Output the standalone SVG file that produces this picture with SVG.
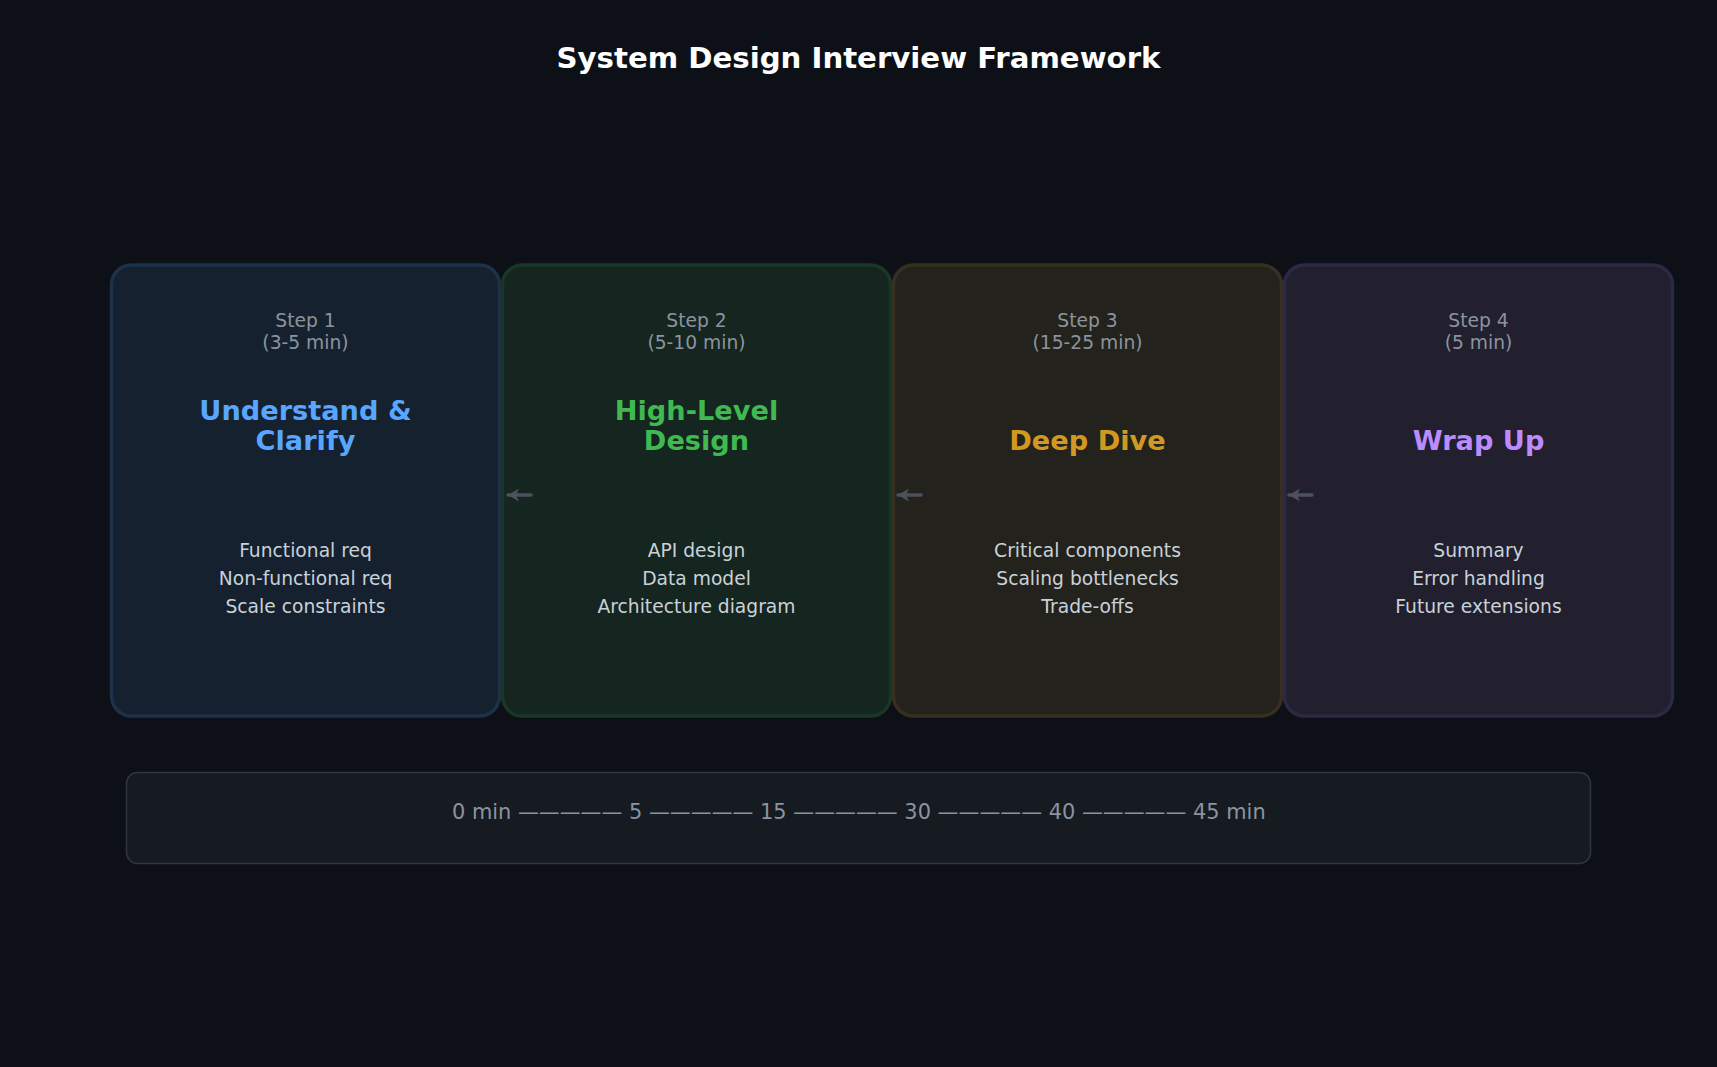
<svg xmlns="http://www.w3.org/2000/svg" width="1717" height="1067" viewBox="0 0 1717 1067">
<defs>
<style>
text{font-family:"DejaVu Sans","Liberation Sans",sans-serif;text-anchor:middle}
.title{font-size:29.2px;font-weight:bold;fill:#ffffff}
.step{font-size:18.7px;fill:#8b949e}
.head{font-size:27.2px;font-weight:bold}
.body{font-size:18.7px;fill:#c9d1d9}
.box{stroke-width:3.5}
.conn{stroke:#4b525b;stroke-width:3.5;stroke-linecap:round;fill:none}
.tl{font-size:20.9px;fill:#8b949e}
</style>
<marker id="ah" markerUnits="userSpaceOnUse" markerWidth="14" markerHeight="14" refX="12" refY="7" orient="auto">
<path d="M1,0.5 L12,7 L1,13.5 L4,7 Z" fill="#4b525b"/>
</marker>
</defs>
<rect x="0" y="0" width="1717" height="1067" fill="#0d1117"/>
<text class="title" x="858.5" y="68">System Design Interview Framework</text>

<g id="step1">
<rect class="box" x="111.5" y="265" width="388" height="451" rx="20" fill="#16212f" stroke="#1d3149"/>
<text class="step" x="305.5" y="327">Step 1</text>
<text class="step" x="305.5" y="349">(3-5 min)</text>
<text class="head" x="305.5" y="420" fill="#58a6ff">Understand &amp;</text>
<text class="head" x="305.5" y="450" fill="#58a6ff">Clarify</text>
<text class="body" x="305.5" y="557">Functional req</text>
<text class="body" x="305.5" y="585">Non-functional req</text>
<text class="body" x="305.5" y="613">Scale constraints</text>
</g>

<g id="step2">
<rect class="box" x="502.5" y="265" width="388" height="451" rx="20" fill="#15251f" stroke="#1a3726"/>
<text class="step" x="696.5" y="327">Step 2</text>
<text class="step" x="696.5" y="349">(5-10 min)</text>
<text class="head" x="696.5" y="420" fill="#3fb950">High-Level</text>
<text class="head" x="696.5" y="450" fill="#3fb950">Design</text>
<text class="body" x="696.5" y="557">API design</text>
<text class="body" x="696.5" y="585">Data model</text>
<text class="body" x="696.5" y="613">Architecture diagram</text>
</g>

<g id="step3">
<rect class="box" x="893.5" y="265" width="388" height="451" rx="20" fill="#24221c" stroke="#372f1f"/>
<text class="step" x="1087.5" y="327">Step 3</text>
<text class="step" x="1087.5" y="349">(15-25 min)</text>
<text class="head" x="1087.5" y="450" fill="#d29922">Deep Dive</text>
<text class="body" x="1087.5" y="557">Critical components</text>
<text class="body" x="1087.5" y="585">Scaling bottlenecks</text>
<text class="body" x="1087.5" y="613">Trade-offs</text>
</g>

<g id="step4">
<rect class="box" x="1284.5" y="265" width="388" height="451" rx="20" fill="#22202f" stroke="#2d2843"/>
<text class="step" x="1478.5" y="327">Step 4</text>
<text class="step" x="1478.5" y="349">(5 min)</text>
<text class="head" x="1478.5" y="450" fill="#bc8cff">Wrap Up</text>
<text class="body" x="1478.5" y="557">Summary</text>
<text class="body" x="1478.5" y="585">Error handling</text>
<text class="body" x="1478.5" y="613">Future extensions</text>
</g>

<g id="connectors">
<path class="conn" d="M531,495 L508,495" marker-end="url(#ah)"/>
<path class="conn" d="M921,495 L898,495" marker-end="url(#ah)"/>
<path class="conn" d="M1312,495 L1289,495" marker-end="url(#ah)"/>
</g>

<g id="timeline">
<rect x="126.5" y="772.5" width="1464" height="91" rx="11" fill="#161a21" stroke="#30363d" stroke-width="1.5"/>
<text class="tl" x="858.8" y="819">0 min ————— 5 ————— 15 ————— 30 ————— 40 ————— 45 min</text>
</g>
</svg>
